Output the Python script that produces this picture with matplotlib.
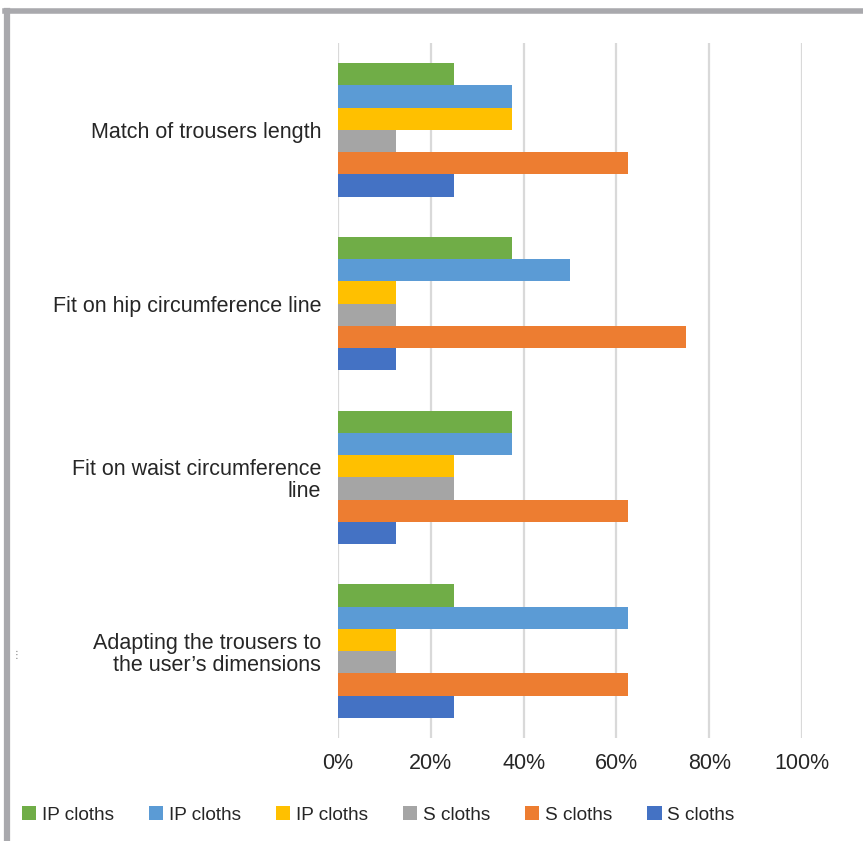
import matplotlib.pyplot as plt
import numpy as np
from matplotlib.lines import Line2D
from matplotlib.patches import Patch

plt.rcParams['font.family'] = ['Liberation Sans', 'DejaVu Sans']

# data (shares of answers)
categories = ['Match of trousers length',
              'Fit on hip circumference line',
              'Fit on waist circumference\nline',
              'Adapting the trousers to\nthe user\u2019s dimensions']
series_labels = ['IP cloths', 'IP cloths', 'IP cloths', 'S cloths', 'S cloths', 'S cloths']
series_colors = ['#70AD47', '#5B9BD5', '#FFC000', '#A5A5A5', '#ED7D31', '#4472C4']
green_vals = [0.25, 0.375, 0.375, 0.25]
lightblue_vals = [0.375, 0.50, 0.375, 0.625]
yellow_vals = [0.375, 0.125, 0.25, 0.125]
gray_vals = [0.125, 0.125, 0.25, 0.125]
orange_vals = [0.625, 0.75, 0.625, 0.625]
blue_vals = [0.25, 0.125, 0.125, 0.25]
series_values = [green_vals, lightblue_vals, yellow_vals, gray_vals, orange_vals, blue_vals]
x_ticks = [0, 0.2, 0.4, 0.6, 0.8, 1.0]

W, H = 863, 841
fig = plt.figure(figsize=(W / 100, H / 100), dpi=100)
ax = fig.add_axes([338 / W, 1 - 738 / H, (802 - 338) / W, (738 - 43) / H])

# bars
n = len(series_values)
bar_h = 0.128
y = np.arange(len(categories))
for i, (vals, col) in enumerate(zip(series_values, series_colors)):
    offs = (i - (n - 1) / 2) * bar_h
    ax.barh(y + offs, vals, height=bar_h, color=col, zorder=3)

ax.set_ylim(len(categories) - 0.5, -0.5)
ax.set_xlim(0, 1.0)
ax.set_yticks(y)
ax.set_yticklabels(categories, fontsize=15.5, color='#262626', linespacing=1.1)
ax.set_xticks(x_ticks)
ax.set_xticklabels([f'{int(round(t * 100))}%' for t in x_ticks], fontsize=15.5, color='#262626')
ax.tick_params(axis='both', length=0)
ax.tick_params(axis='y', pad=12)
ax.tick_params(axis='x', pad=10.5)
ax.grid(axis='x', color='#D9D9D9', linewidth=1.6, zorder=0)
for s in ax.spines.values():
    s.set_visible(False)

# legend
handles = [Patch(facecolor=c, edgecolor='none') for c in series_colors]
fig.legend(handles, series_labels, loc='center left', bbox_to_anchor=(22 / W, 1 - 815 / H),
           ncol=6, frameon=False, fontsize=13.7, handlelength=0.74, handleheight=0.74,
           handletextpad=0.3, columnspacing=1.85, borderaxespad=0, borderpad=0,
           labelcolor='#262626')

# gray frame on left and top
fig.add_artist(Line2D([7 / W, 7 / W], [0, 1 - 10.5 / H], color='#A9A9AD', linewidth=4.5,
                      transform=fig.transFigure))
fig.add_artist(Line2D([4.8 / W, 1], [1 - 10.5 / H, 1 - 10.5 / H], color='#A9A9AD', linewidth=4,
                      transform=fig.transFigure))
fig.text(17 / W, 1 - 655 / H, '\u22ee', fontsize=7, color='#777777', ha='center', va='center',
         family='DejaVu Sans')

fig.savefig('out.png', dpi=100)
